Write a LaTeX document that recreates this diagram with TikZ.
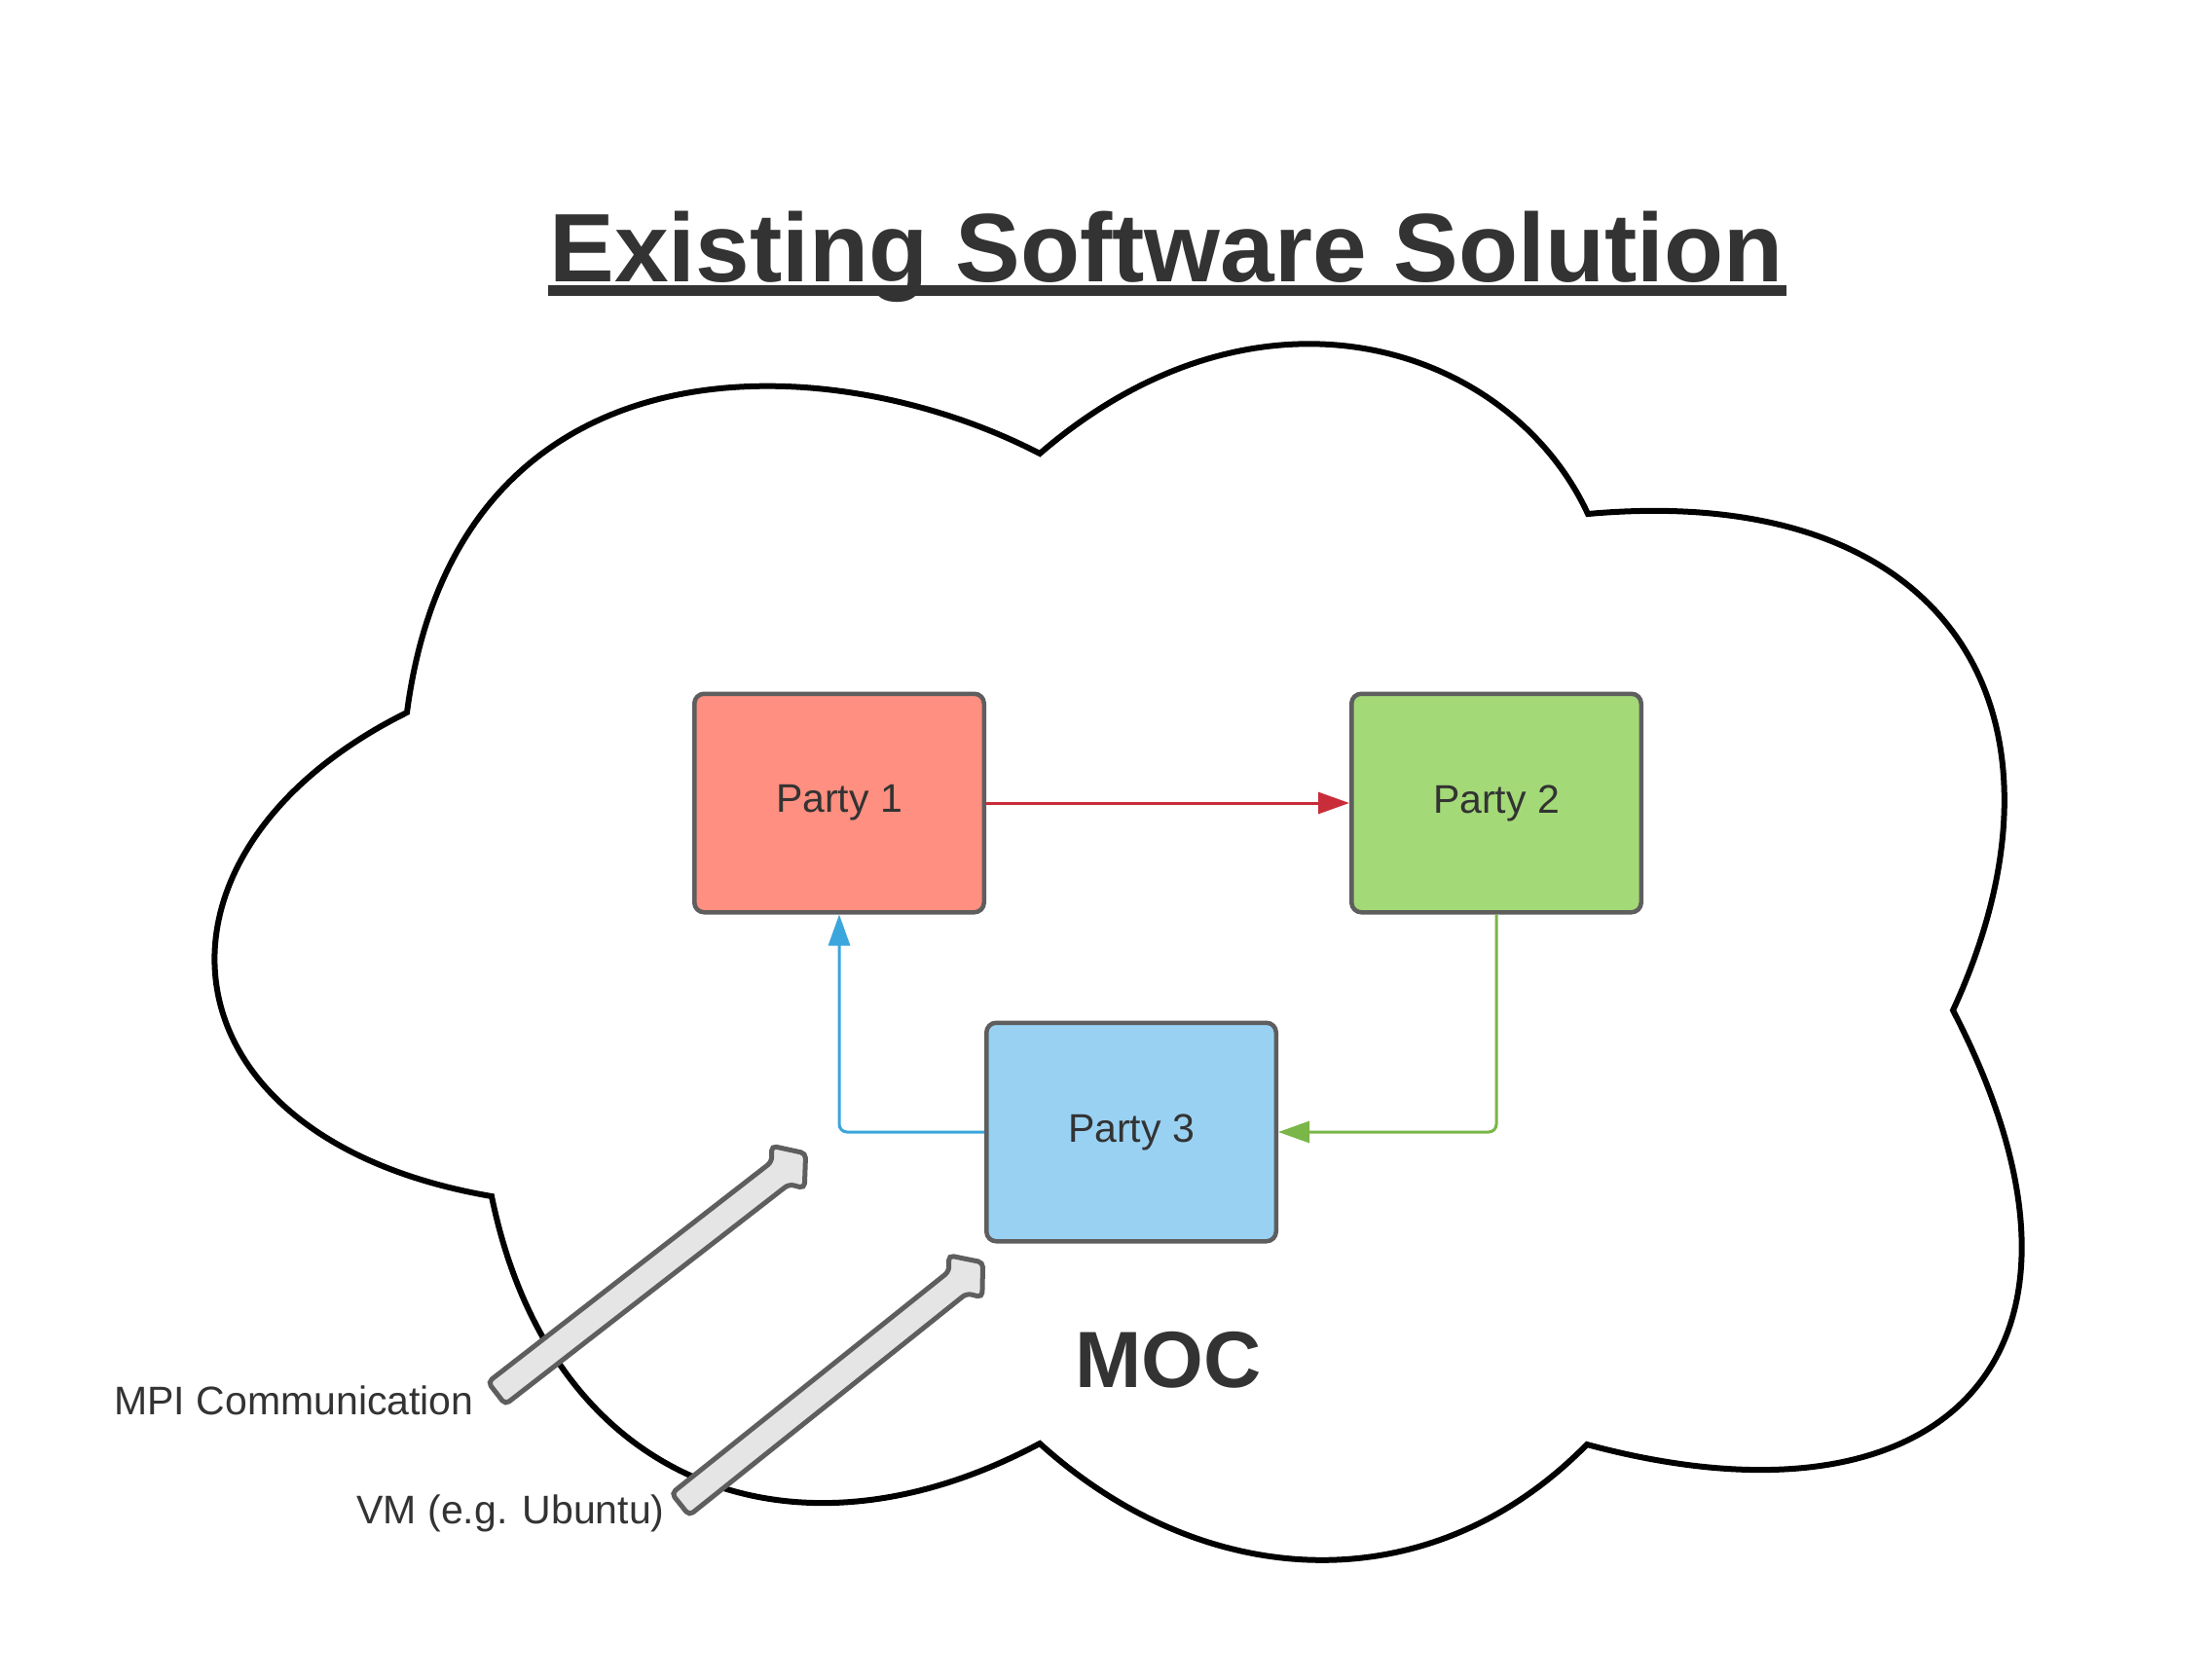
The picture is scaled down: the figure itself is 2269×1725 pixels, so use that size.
\documentclass[tikz,border=0pt]{standalone}
\usepackage{fontspec}
\setmainfont{Liberation Sans}
\usetikzlibrary{arrows.meta}
\definecolor{txt}{HTML}{333333}
\definecolor{boxline}{HTML}{5E5E5E}
\definecolor{pafill}{HTML}{FF8F80}
\definecolor{pbfill}{HTML}{A3D977}
\definecolor{pcfill}{HTML}{99D1F2}
\definecolor{redline}{HTML}{C92D39}
\definecolor{greenline}{HTML}{7AB648}
\definecolor{blueline}{HTML}{3AA6DD}
\definecolor{arrowfill}{HTML}{E5E5E5}
\definecolor{arrowline}{HTML}{5E5E5E}
\begin{document}
\begin{tikzpicture}[x=0.5pt,y=-0.5pt,
  party/.style={draw=boxline, line width=2.25pt, rounded corners=5pt,
    minimum width=148.75pt, minimum height=112.25pt, inner sep=0pt,
    text=txt, font=\fontsize{20.5}{24}\selectfont},
  link/.style={line width=1.5pt, rounded corners=4pt,
    -{Triangle[length=16pt,width=11pt]}},
  cloudline/.style={draw=black, line width=3pt, fill=white},
  blockarr/.style={draw=arrowline, fill=arrowfill, line width=2.5pt, rounded corners=2.5pt},
  lbl/.style={text=txt, font=\fontsize{20.5}{24}\selectfont, inner sep=0pt}
]
\useasboundingbox (0,0) rectangle (2269,1725);

% cloud
\draw[cloudline] (418,732)
  .. controls (470,335) and (855,355) .. (1068,466)
  .. controls (1295,270) and (1551,355) .. (1631,528)
  .. controls (2009,494) and (2144,738) .. (2006,1038)
  .. controls (2190,1393) and (1997,1583) .. (1630,1484)
  .. controls (1469,1648) and (1238,1637) .. (1068,1483)
  .. controls (812,1620) and (565,1523) .. (505,1229)
  .. controls (155,1169) and (130,875) .. cycle;

% title
\fill[txt] (563,293) rectangle (1835,304);
\node[font=\bfseries\fontsize{50}{60}\selectfont, text=txt, anchor=base, inner sep=0pt]
  (title) at (1198,289) {Existing Software Solution};

% parties
\node[party, fill=pafill] (p1) at (862,825) {Party 1};
\node[party, fill=pbfill] (p2) at (1537,825) {Party 2};
\node[party, fill=pcfill] (p3) at (1162,1163) {Party 3};

\draw[link, redline] (p1.east) -- (p2.west);
\draw[link, greenline] (p2.south) |- (p3.east);
\draw[link, blueline] (p3.west) -| (p1.south);

% MOC
\node[font=\bfseries\fontsize{41}{48}\selectfont, text=txt, anchor=base, inner sep=0pt]
  (moc) at (1200,1425) {MOC};

% labels
\node[lbl, anchor=base east] (mpi) at (487,1453) {MPI Communication};
\node[lbl, anchor=base east] (vm) at (683,1565) {VM (e.g. Ubuntu)};

% block arrows
\begin{scope}[shift={(827.6,1184.9)}, rotate=37.83]
  \draw[blockarr] (-402,-14.5) -- (-33,-14.5) -- (-23,-27.5) -- (0,0)
    -- (-23,27.5) -- (-33,14.5) -- (-402,14.5) -- cycle;
\end{scope}
\begin{scope}[shift={(1009.6,1296.9)}, rotate=38.67]
  \draw[blockarr] (-398,-14.5) -- (-33,-14.5) -- (-23,-27.5) -- (0,0)
    -- (-23,27.5) -- (-33,14.5) -- (-398,14.5) -- cycle;
\end{scope}
\end{tikzpicture}
\end{document}
